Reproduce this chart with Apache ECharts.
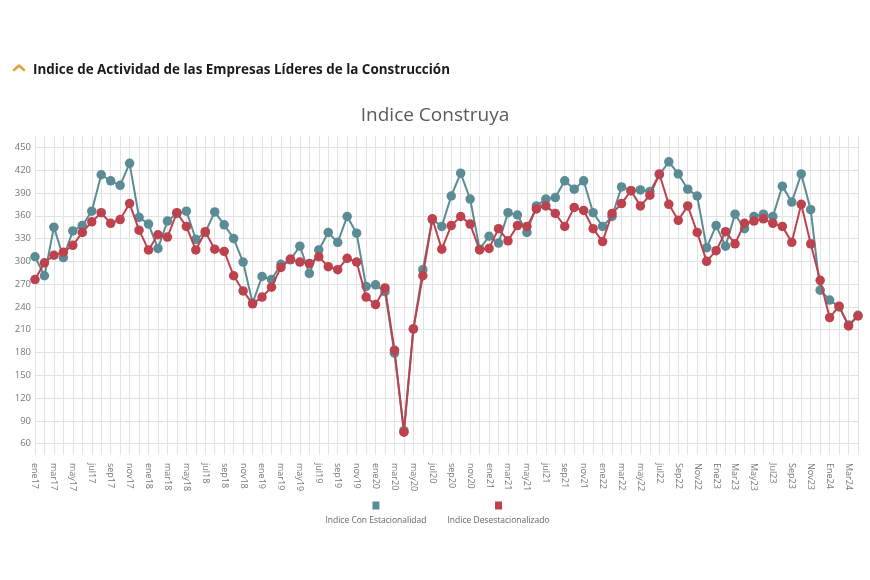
<!DOCTYPE html>
<html>
<head>
<meta charset="utf-8">
<script src="https://cdn.jsdelivr.net/npm/echarts@6/dist/echarts.min.js"></script>
<style>
html,body{margin:0;padding:0;background:#fff;}
#chart{width:870px;height:580px;}
</style>
</head>
<body>
<div id="chart"></div>
<script>
const categories = [
  'ene17','feb17','mar17','abr17','may17','jun17','jul17','ago17','sep17','oct17','nov17','dic17',
  'ene18','feb18','mar18','abr18','may18','jun18','jul18','ago18','sep18','oct18','nov18','dic18',
  'ene19','feb19','mar19','abr19','may19','jun19','jul19','ago19','sep19','oct19','nov19','dic19',
  'ene20','feb20','mar20','abr20','may20','jun20','jul20','ago20','sep20','oct20','nov20','dic20',
  'ene21','feb21','mar21','abr21','may21','jun21','jul21','ago21','sep21','oct21','nov21','dic21',
  'ene22','feb22','mar22','abr22','may22','jun22','jul22','Ago22','Sep22','Oct22','Nov22','Dic22',
  'Ene23','Feb23','Mar23','Abr23','May23','Jun23','Jul23','Ago23','Sep23','Oct23','Nov23','Dic23',
  'Ene24','Feb24','Mar24','Abr24'
];
const conEstacionalidad = [
  306,281,345,305,340,347,366,414,406,400,429,358,
  349,317,353,363,366,329,338,365,348,330,299,245,
  280,276,296,302,320,284,315,338,325,359,337,267,
  269,260,179,77,211,289,355,346,386,416,382,316,
  333,324,364,361,338,373,382,384,406,395,406,364,
  346,359,398,393,394,392,414,431,415,395,386,318,
  347,320,362,343,359,362,359,399,378,415,368,262,
  249,240,216,229
];
const desestacionalizado = [
  276,298,308,312,321,338,352,364,350,355,376,341,
  315,335,332,364,346,315,339,316,313,281,261,244,
  253,266,292,303,299,297,306,293,289,304,299,253,
  243,265,183,75,211,281,356,316,347,359,349,315,
  317,343,327,347,346,369,373,363,346,371,367,343,
  326,363,376,393,373,387,415,375,354,373,338,300,
  314,339,323,350,353,356,350,346,325,375,323,275,
  226,241,215,228
];
const seriesNames = ['Indice Con Estacionalidad', 'Indice Desestacionalizado'];
const pageTitle = 'Indice de Actividad de las Empresas Líderes de la Construcción';
const chartTitle = 'Indice Construya';

const BLUE = '#5b8b95';
const RED = '#bd424d';

const chart = echarts.init(document.getElementById('chart'), null, {renderer: 'canvas'});
chart.setOption({
  animation: false,
  backgroundColor: '#ffffff',
  title: [
    {
      text: chartTitle,
      left: 'center', top: 101,
      textStyle: {fontFamily: 'Open Sans', fontWeight: 'normal', fontSize: 19, color: '#5a5a5a'}
    }
  ],
  graphic: [
    {
      type: 'polyline',
      shape: {points: [[14, 70], [19, 65.5], [24, 70]]},
      style: {stroke: '#e3a23b', lineWidth: 2.6, fill: null, lineCap: 'round', lineJoin: 'round'}
    },
    {
      type: 'text',
      x: 33, y: 70,
      scaleX: 0.895,
      style: {
        text: pageTitle,
        font: 'bold 15px "Open Sans"',
        fill: '#1a1a1a',
        textAlign: 'left',
        textVerticalAlign: 'middle'
      }
    }
  ],
  legend: {
    bottom: 50,
    left: 'center',
    itemGap: 16,
    itemWidth: 0,
    itemHeight: 0,
    icon: 'none',
    data: seriesNames,
    formatter: function (name) {
      return (name === seriesNames[0] ? '{sqb|}' : '{sqr|}') + '\n{t|' + name + '}';
    },
    textStyle: {
      rich: {
        sqb: {backgroundColor: BLUE, width: 7, height: 8, align: 'center'},
        sqr: {backgroundColor: RED, width: 7, height: 8, align: 'center'},
        t: {fontFamily: 'Open Sans', fontSize: 8.5, color: '#666', lineHeight: 22, align: 'center'}
      }
    }
  },
  grid: {left: 35, right: 12, top: 136, bottom: 125, containLabel: false},
  xAxis: {
    type: 'category',
    data: categories,
    boundaryGap: false,
    axisLine: {show: false},
    axisTick: {show: false},
    axisLabel: {
      interval: 1, rotate: -90, margin: 8,
      fontFamily: 'Open Sans', fontSize: 9, color: '#777'
    },
    splitLine: {show: true, interval: 0, lineStyle: {color: '#e2e2e2', width: 1}}
  },
  yAxis: {
    type: 'value',
    min: 45, max: 465, interval: 15,
    axisLine: {show: false},
    axisTick: {show: false},
    axisLabel: {
      margin: 4,
      fontFamily: 'Open Sans', fontSize: 9.5, color: '#777',
      formatter: function (v) { return (v % 30 === 0 && v >= 60 && v <= 450) ? String(v) : ''; }
    },
    splitLine: {show: true, lineStyle: {color: ['rgba(0,0,0,0)', '#e2e2e2'], width: 1}}
  },
  series: [
    {
      name: seriesNames[0],
      type: 'line',
      data: conEstacionalidad,
      symbol: 'circle',
      symbolSize: 9.5,
      showAllSymbol: true,
      lineStyle: {color: BLUE, width: 2},
      itemStyle: {color: BLUE},
      z: 2
    },
    {
      name: seriesNames[1],
      type: 'line',
      data: desestacionalizado,
      symbol: 'circle',
      symbolSize: 9.5,
      showAllSymbol: true,
      lineStyle: {color: RED, width: 2},
      itemStyle: {color: RED},
      z: 3
    }
  ]
});
</script>
</body>
</html>
